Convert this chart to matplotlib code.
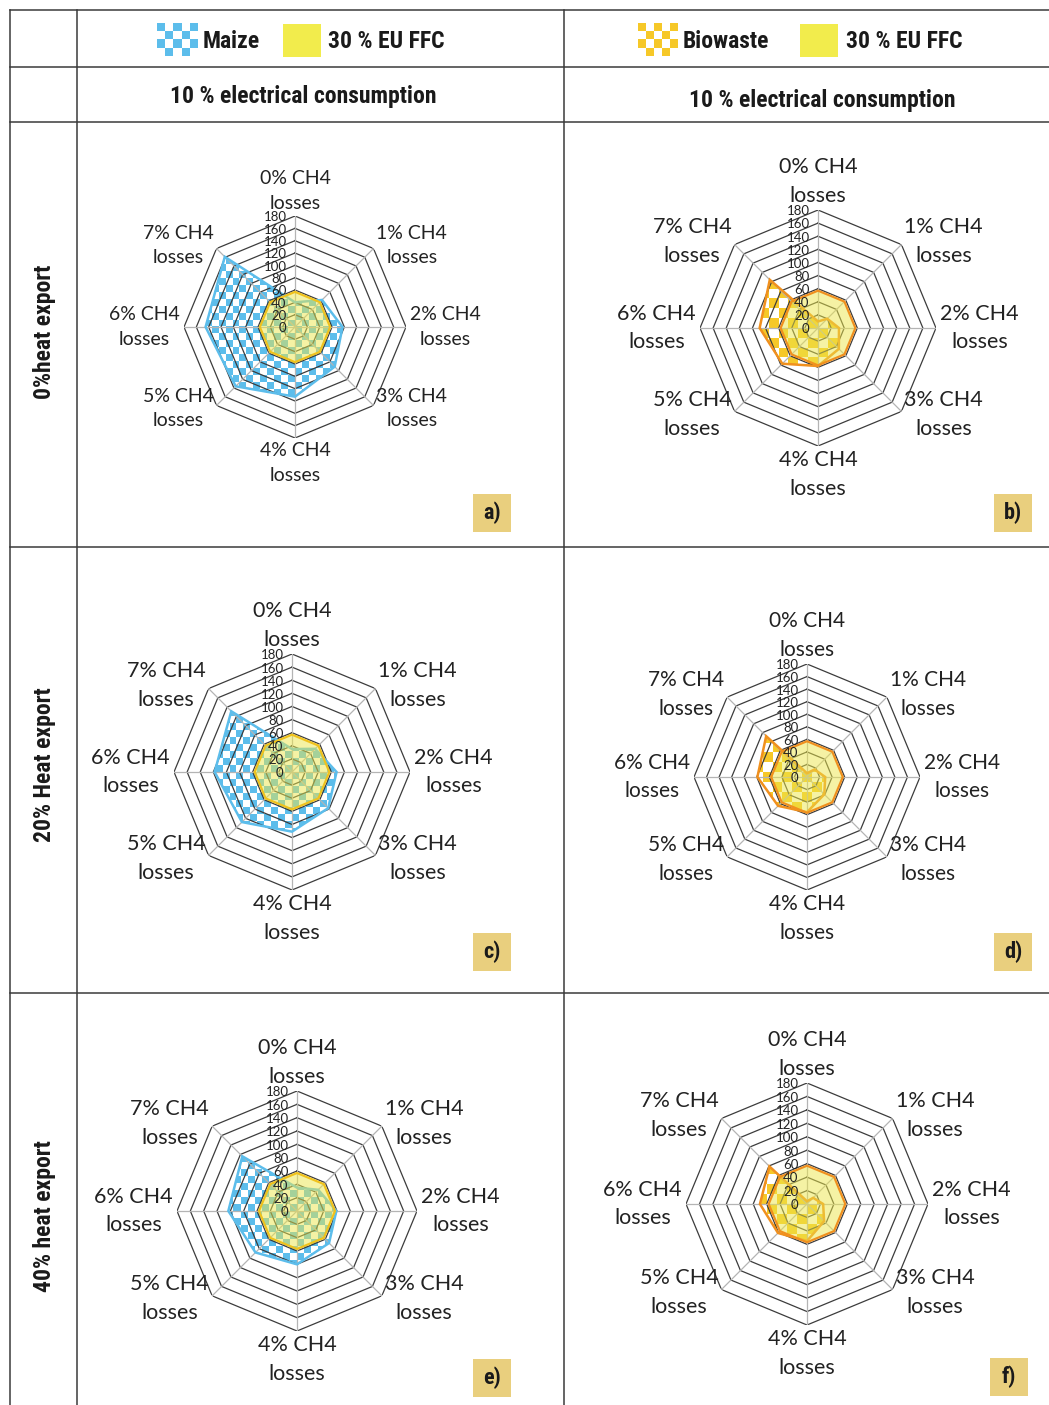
"""Radar charts: GHG savings of maize and biowaste vs 30 % EU FFC benchmark."""

import os

import matplotlib

matplotlib.use("Agg")
import matplotlib.pyplot as plt
import numpy as np
from matplotlib import font_manager
from matplotlib.colors import to_rgb
from matplotlib.font_manager import FontProperties
from matplotlib.lines import Line2D
from matplotlib.patches import Rectangle

W, H = 1049, 1405

categories = ["0% CH4\nlosses", "1% CH4\nlosses", "2% CH4\nlosses", "3% CH4\nlosses",
              "4% CH4\nlosses", "5% CH4\nlosses", "6% CH4\nlosses", "7% CH4\nlosses"]
ring_values = [20, 40, 60, 80, 100, 120, 140, 160, 180]
tick_labels = ["0", "20", "40", "60", "80", "100", "120", "140", "160", "180"]

maize_heat0 = [40, 62, 77, 91, 113, 136, 145, 161]
maize_heat20 = [35, 50, 68, 78, 91, 108, 118, 131]
maize_heat40 = [35, 45, 59, 68, 80, 88, 103, 116]
biowaste_heat0 = [10, 20, 32, 45, 58, 77, 89, 104]
biowaste_heat20 = [6, 17, 29, 39, 56, 65, 79, 92]
biowaste_heat40 = [4, 13, 24, 36, 55, 61, 70, 79]
eu_ffc = [57, 57, 57, 57, 57, 57, 57, 57]

row_labels = ["0%heat export", "20% Heat export", "40% heat export"]
panel_letters = ["a)", "b)", "c)", "d)", "e)", "f)"]

BLUE = "#5cbdeb"
GOLD = "#f6c828"
ORANGE = "#f0901e"
YELLOW = "#ece64a"
YELLOW_EDGE = "#f0c21c"
BOX = "#e9cf7e"
LABEL_FONT = ["Lato", "DejaVu Sans"]


def narrow_bold(size):
    """Pick a condensed bold face if one is installed."""
    prefs = ["liberationsansnarrow-bold.", "robotocondensed-bold.", "dejavusanscondensed-bold.",
             "opensans_condensed-bold", "opensanscondensed-bold"]
    files = [f.fname for f in font_manager.fontManager.ttflist]
    for p in prefs:
        for fn in files:
            if os.path.basename(fn).lower().replace(" ", "").startswith(p):
                return FontProperties(fname=fn, size=size)
    for fn in files:
        b = os.path.basename(fn).lower()
        if ("narrow" in b or "condensed" in b) and "bold" in b and "italic" not in b \
                and "oblique" not in b:
            return FontProperties(fname=fn, size=size)
    return FontProperties(family="Liberation Sans", weight="bold", size=size * 0.85)


def fig_rect(x, y, w, h):
    return [x / W, 1 - (y + h) / H, w / W, h / H]


def checker(nx, ny, color):
    ii, jj = np.meshgrid(np.arange(nx), np.arange(ny))
    mask = ((ii + jj) % 2 == 0)[..., None]
    return np.where(mask, np.array(to_rgb(color)), np.ones(3))


def draw_radar(fig, cx, cy, R, values, color, outline, cell, eu_edge, label_fs, tick_fs):
    ax = fig.add_axes(fig_rect(cx - R, cy - R, 2 * R, 2 * R), projection="polar")
    ax.set_theta_zero_location("N")
    ax.set_theta_direction(-1)
    ax.set_ylim(0, 180)
    ax.grid(False)
    ax.set_xticks([])
    ax.set_yticks([])
    ax.spines["polar"].set_visible(False)
    ax.patch.set_visible(False)

    theta = np.linspace(0, 2 * np.pi, len(categories), endpoint=False)
    theta_c = np.append(theta, theta[0])

    for v in ring_values:
        ax.plot(theta_c, [v] * len(theta_c), color="#3c3c3c", lw=0.9, zorder=1.5)
    for t in theta:
        ax.plot([t, t], [0, 180], color="#b4b4b4", lw=0.9, zorder=1.5)

    # patterned series: checker image clipped to the polygon
    poly = ax.fill(theta, values, facecolor="none", edgecolor=outline, lw=1.8, zorder=1.8)[0]
    ins = ax.inset_axes([0, 0, 1, 1], zorder=1)
    ins.axis("off")
    ins.patch.set_visible(False)
    n = int(round(2 * R / cell))
    im = ins.imshow(checker(n, n, color), extent=(0, 1, 0, 1), aspect="auto",
                    interpolation="nearest")
    ins.set_xlim(0, 1)
    ins.set_ylim(0, 1)
    im.set_clip_path(poly)

    ax.fill(theta, eu_ffc, facecolor=YELLOW, alpha=0.5, edgecolor="none", zorder=2)
    ax.fill(theta, eu_ffc, facecolor="none", edgecolor=eu_edge, lw=1.6, zorder=2.2)

    for t, lab in zip(theta, categories):
        dx, dy = np.sin(t), np.cos(t)
        ha = "center" if abs(dx) < 0.1 else ("left" if dx > 0 else "right")
        va = "bottom" if dy > 0.9 else ("top" if dy < -0.9 else "center")
        ax.annotate(lab, xy=(t, 180), xytext=(3 * dx, 3 * dy), textcoords="offset points",
                    ha=ha, va=va, ma="center", fontsize=label_fs, family=LABEL_FONT,
                    color="#222222", annotation_clip=False, linespacing=1.55)

    for v, lab in zip([0] + ring_values, tick_labels):
        ax.annotate(lab, xy=(0, v), xytext=(-6, -1), textcoords="offset points",
                    ha="right", va="center", fontsize=tick_fs, family=LABEL_FONT,
                    color="#222222", annotation_clip=False, zorder=4)
    return ax


def main():
    fig = plt.figure(figsize=(W / 100, H / 100), dpi=100)
    fig.patch.set_facecolor("white")
    head = narrow_bold(17)

    def hline(y, x0=10, x1=W):
        fig.add_artist(Line2D([x0 / W, x1 / W], [1 - y / H, 1 - y / H],
                              transform=fig.transFigure, color="#3a3a3a", lw=1.1))

    def vline(x, y0=10, y1=H):
        fig.add_artist(Line2D([x / W, x / W], [1 - y0 / H, 1 - y1 / H],
                              transform=fig.transFigure, color="#3a3a3a", lw=1.1))

    for y in [10, 67, 122, 547, 993]:
        hline(y)
    for x in [10, 77, 564]:
        vline(x)

    # legend row
    for x, col in [(157, BLUE), (638, GOLD)]:
        lax = fig.add_axes(fig_rect(x, 23, 40, 33))
        lax.imshow(checker(5, 4, col), aspect="auto", interpolation="nearest")
        lax.axis("off")
    for x in [283, 800]:
        fig.add_artist(Rectangle((x / W, 1 - 57 / H), 38 / W, 33 / H,
                                 transform=fig.transFigure, facecolor="#f2ec4c",
                                 edgecolor="none"))
    legend_texts = [(203, "Maize"), (328, "30 % EU FFC"), (683, "Biowaste"), (846, "30 % EU FFC")]
    for x, txt in legend_texts:
        fig.text(x / W, 1 - 41 / H, txt, ha="left", va="center", fontproperties=head,
                 color="#1a1a1a")

    for x, y in [(303, 97), (822, 101)]:
        fig.text(x / W, 1 - y / H, "10 % electrical consumption", ha="center", va="center",
                 fontproperties=head, color="#1a1a1a")

    for y, txt in zip([332, 765, 1216], row_labels):
        fig.text(45 / W, 1 - y / H, txt, ha="center", va="center", rotation=90,
                 fontproperties=head, color="#1a1a1a")

    panels = [
        (295, 327, 111, maize_heat0, BLUE, BLUE, 7, YELLOW_EDGE, 14),
        (818, 328, 118, biowaste_heat0, GOLD, ORANGE, 10, ORANGE, 15.5),
        (292, 772, 118, maize_heat20, BLUE, BLUE, 7, YELLOW_EDGE, 15.5),
        (807, 777, 113, biowaste_heat20, GOLD, ORANGE, 10, ORANGE, 15),
        (297, 1211, 120, maize_heat40, BLUE, BLUE, 7, YELLOW_EDGE, 15.5),
        (807, 1204, 121, biowaste_heat40, GOLD, ORANGE, 10, ORANGE, 15.5),
    ]
    for cx, cy, R, vals, col, edge, cell, eu_edge, fs in panels:
        draw_radar(fig, cx, cy, R, vals, col, edge, cell, eu_edge, fs, 9.5)

    box_pos = [(473, 494), (994, 494), (473, 933), (994, 933), (473, 1359), (990, 1358)]
    letter_font = head.copy()
    letter_font.set_size(16)
    for (x, y), letter in zip(box_pos, panel_letters):
        fig.add_artist(Rectangle((x / W, 1 - (y + 38) / H), 38 / W, 38 / H,
                                 transform=fig.transFigure, facecolor=BOX, edgecolor="none"))
        fig.text((x + 19) / W, 1 - (y + 19) / H, letter, ha="center", va="center",
                 fontproperties=letter_font, color="#1a1a1a")

    fig.savefig("out.png", dpi=100)
    plt.close(fig)


if __name__ == "__main__":
    main()
